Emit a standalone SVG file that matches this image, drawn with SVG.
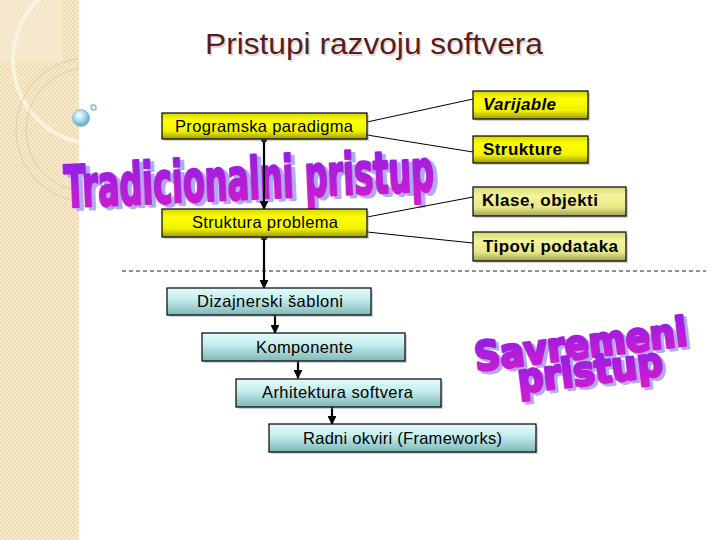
<svg xmlns="http://www.w3.org/2000/svg" width="720" height="540" viewBox="0 0 720 540">
  <defs>
    <pattern id="chk" width="4" height="4" patternUnits="userSpaceOnUse">
      <rect width="4" height="4" fill="#f1ddb4"/>
      <rect width="2" height="2" fill="#f6e8cb"/>
      <rect x="2" y="2" width="2" height="2" fill="#f6e8cb"/>
    </pattern>
    <clipPath id="band"><rect x="0" y="0" width="79" height="540"/></clipPath>
    <linearGradient id="yel" x1="0" y1="0" x2="0" y2="1">
      <stop offset="0" stop-color="#d8d800"/>
      <stop offset="0.3" stop-color="#ffff00"/>
      <stop offset="0.7" stop-color="#f2f200"/>
      <stop offset="1" stop-color="#9c9c00"/>
    </linearGradient>
    <linearGradient id="yel2" x1="0" y1="0" x2="0" y2="1">
      <stop offset="0" stop-color="#d6d67a"/>
      <stop offset="0.3" stop-color="#f4f49a"/>
      <stop offset="0.7" stop-color="#e8e888"/>
      <stop offset="1" stop-color="#a2a252"/>
    </linearGradient>
    <linearGradient id="cyn" x1="0" y1="0" x2="0" y2="1">
      <stop offset="0" stop-color="#e4fafa"/>
      <stop offset="0.4" stop-color="#c6efef"/>
      <stop offset="1" stop-color="#7fb7b7"/>
    </linearGradient>
    <linearGradient id="wa" x1="0" y1="0" x2="0" y2="1">
      <stop offset="0" stop-color="#8a1ee6"/>
      <stop offset="1" stop-color="#d61ccc"/>
    </linearGradient>
    <radialGradient id="bub" cx="0.4" cy="0.35" r="0.65">
      <stop offset="0" stop-color="#ffffff"/>
      <stop offset="0.5" stop-color="#a8dcec"/>
      <stop offset="1" stop-color="#5aa8c8"/>
    </radialGradient>
    <marker id="arr" viewBox="0 0 10 10" refX="9" refY="5" markerWidth="4" markerHeight="4" orient="auto" markerUnits="strokeWidth">
      <path d="M0,0 L10,5 L0,10 z" fill="#000"/>
    </marker>
    <marker id="dot" viewBox="0 0 10 10" refX="5" refY="5" markerWidth="3" markerHeight="3" markerUnits="strokeWidth">
      <circle cx="5" cy="5" r="5" fill="#000"/>
    </marker>
  </defs>
  <style>
    .lbl { font-family: "Liberation Sans", Arial, sans-serif; font-size: 16.5px; fill: #000; }
    .b { font-weight: bold; font-size: 17px; }
    .box { stroke: #000; stroke-width: 1.2; }
    .sh { fill: #9a9a9a; opacity: 0.45; }
    .con { stroke: #000; stroke-width: 2.2; fill: none; }
    .thin { stroke: #000; stroke-width: 1; fill: none; }
    .wa { font-family: "DejaVu Sans Condensed", "DejaVu Sans", sans-serif; font-weight: bold; stroke-linejoin: round; }
    .wa2 { font-family: "DejaVu Sans", sans-serif; font-weight: bold; stroke-linejoin: round; }
    .wsh { fill: #b4a8f4; stroke: #b4a8f4; }
    .wfg { fill: url(#wa); stroke: url(#wa); }
  </style>

  <rect width="720" height="540" fill="#ffffff"/>

  <!-- left decorative band -->
  <g id="band-deco">
    <rect x="0" y="0" width="79" height="540" fill="url(#chk)"/>
    <g clip-path="url(#band)" fill="none">
      <rect x="0" y="0" width="62" height="62" fill="#f7ecd6" opacity="0.6"/>
      <circle cx="97" cy="60" r="84" stroke="#fbf3de" stroke-width="4"/>
      <circle cx="88" cy="130" r="72" stroke="#d9c3a0" stroke-width="0.8"/>
      <circle cx="88" cy="130" r="62" stroke="#d9c3a0" stroke-width="0.8"/>
    </g>
    <circle cx="81" cy="118" r="8.5" fill="url(#bub)" stroke="#6aaecb" stroke-width="0.6"/>
    <circle cx="93.5" cy="107.5" r="2.6" fill="#e8f6fb" stroke="#7ab8d0" stroke-width="1.2"/>
  </g>

  <!-- title -->
  <text id="title-shadow" x="374" y="54" text-anchor="middle" font-family="Liberation Sans, Arial, sans-serif" font-size="29" fill="#e3d7d3" textLength="338" lengthAdjust="spacingAndGlyphs" transform="translate(1.5,1.5)">Pristupi razvoju softvera</text>
  <text id="title" x="374" y="54" text-anchor="middle" font-family="Liberation Sans, Arial, sans-serif" font-size="29" fill="#5a1c1c" textLength="338" lengthAdjust="spacingAndGlyphs">Pristupi razvoju softvera</text>

  <!-- WordArt: Tradicionalni pristup -->
  <g id="wordart-tradicionalni" transform="rotate(-2.6 250 180)">
    <text class="wa wsh" x="64" y="199" font-size="58" stroke-width="2.4" textLength="370" lengthAdjust="spacingAndGlyphs" transform="translate(4,3)">Tradicionalni pristup</text>
    <text class="wa wfg" x="64" y="199" font-size="58" stroke-width="2.4" textLength="370" lengthAdjust="spacingAndGlyphs">Tradicionalni pristup</text>
  </g>

  <!-- WordArt: Savremeni pristup -->
  <g id="wordart-savremeni" transform="rotate(-7 582 355)">
    <text class="wa2 wsh" x="582" y="358" text-anchor="middle" font-size="40" stroke-width="3" textLength="214" lengthAdjust="spacingAndGlyphs" transform="translate(3,3)">Savremeni</text>
    <text class="wa2 wfg" x="582" y="358" text-anchor="middle" font-size="40" stroke-width="3" textLength="214" lengthAdjust="spacingAndGlyphs">Savremeni</text>
    <text class="wa2 wsh" x="588" y="385" text-anchor="middle" font-size="40" stroke-width="3" textLength="146" lengthAdjust="spacingAndGlyphs" transform="translate(3,3)">pristup</text>
    <text class="wa2 wfg" x="588" y="385" text-anchor="middle" font-size="40" stroke-width="3" textLength="146" lengthAdjust="spacingAndGlyphs">pristup</text>
  </g>

  <!-- connectors -->
  <g id="connectors">
    <line x1="122" y1="271" x2="706" y2="271" stroke="#222" stroke-width="1" stroke-dasharray="4 3"/>
    <line class="thin" x1="367" y1="122" x2="473" y2="99"/>
    <line class="thin" x1="367" y1="135" x2="473" y2="152"/>
    <line class="thin" x1="367" y1="217" x2="473" y2="197"/>
    <line class="thin" x1="367" y1="232" x2="473" y2="243"/>
    <line class="con" x1="264" y1="139" x2="264" y2="209" marker-start="url(#dot)" marker-end="url(#arr)"/>
    <line class="con" x1="264" y1="237" x2="264" y2="288" marker-start="url(#dot)" marker-end="url(#arr)"/>
    <line class="con" x1="275" y1="315" x2="275" y2="333" marker-end="url(#arr)"/>
    <line class="con" x1="298" y1="361" x2="298" y2="378" marker-end="url(#arr)"/>
    <line class="con" x1="332" y1="407" x2="332" y2="424" marker-end="url(#arr)"/>
  </g>

  <!-- yellow nodes -->
  <g id="programska-paradigma">
    <rect class="sh" x="164" y="115" width="205" height="26"/>
    <rect class="box" x="162" y="113" width="205" height="26" fill="url(#yel)"/>
    <text class="lbl" x="175" y="132" textLength="178" lengthAdjust="spacing">Programska paradigma</text>
  </g>
  <g id="struktura-problema">
    <rect class="sh" x="164" y="211" width="205" height="28"/>
    <rect class="box" x="162" y="209" width="205" height="28" fill="url(#yel)"/>
    <text class="lbl" x="192" y="228" textLength="146" lengthAdjust="spacing">Struktura problema</text>
  </g>
  <g id="varijable">
    <rect class="sh" x="475" y="93" width="115" height="28"/>
    <rect class="box" x="473" y="91" width="115" height="28" fill="url(#yel)"/>
    <text class="lbl b" x="483" y="110" font-style="italic" textLength="73" lengthAdjust="spacing">Varijable</text>
  </g>
  <g id="strukture">
    <rect class="sh" x="475" y="138" width="115" height="27"/>
    <rect class="box" x="473" y="136" width="115" height="27" fill="url(#yel)"/>
    <text class="lbl b" x="483" y="155" textLength="79" lengthAdjust="spacing">Strukture</text>
  </g>
  <g id="klase-objekti">
    <rect class="sh" x="475" y="189" width="153" height="29"/>
    <rect class="box" x="473" y="187" width="153" height="29" fill="url(#yel2)"/>
    <text class="lbl b" x="482" y="206" textLength="116" lengthAdjust="spacing">Klase, objekti</text>
  </g>
  <g id="tipovi-podataka">
    <rect class="sh" x="475" y="234" width="153" height="29"/>
    <rect class="box" x="473" y="232" width="153" height="29" fill="url(#yel2)"/>
    <text class="lbl b" x="483" y="252" textLength="135" lengthAdjust="spacing">Tipovi podataka</text>
  </g>

  <!-- cyan nodes -->
  <g id="dizajnerski-sabloni">
    <rect class="sh" x="169" y="290" width="204" height="27"/>
    <rect class="box" x="167" y="288" width="204" height="27" fill="url(#cyn)"/>
    <text class="lbl" x="197" y="307" textLength="146" lengthAdjust="spacing">Dizajnerski šabloni</text>
  </g>
  <g id="komponente">
    <rect class="sh" x="204" y="335" width="203" height="28"/>
    <rect class="box" x="202" y="333" width="203" height="28" fill="url(#cyn)"/>
    <text class="lbl" x="256" y="353" textLength="97" lengthAdjust="spacing">Komponente</text>
  </g>
  <g id="arhitektura-softvera">
    <rect class="sh" x="238" y="381" width="205" height="28"/>
    <rect class="box" x="236" y="379" width="205" height="28" fill="url(#cyn)"/>
    <text class="lbl" x="262" y="398" textLength="151" lengthAdjust="spacing">Arhitektura softvera</text>
  </g>
  <g id="radni-okviri">
    <rect class="sh" x="271" y="426" width="267" height="28"/>
    <rect class="box" x="269" y="424" width="267" height="28" fill="url(#cyn)"/>
    <text class="lbl" x="303" y="444" textLength="199" lengthAdjust="spacing">Radni okviri (Frameworks)</text>
  </g>
</svg>
